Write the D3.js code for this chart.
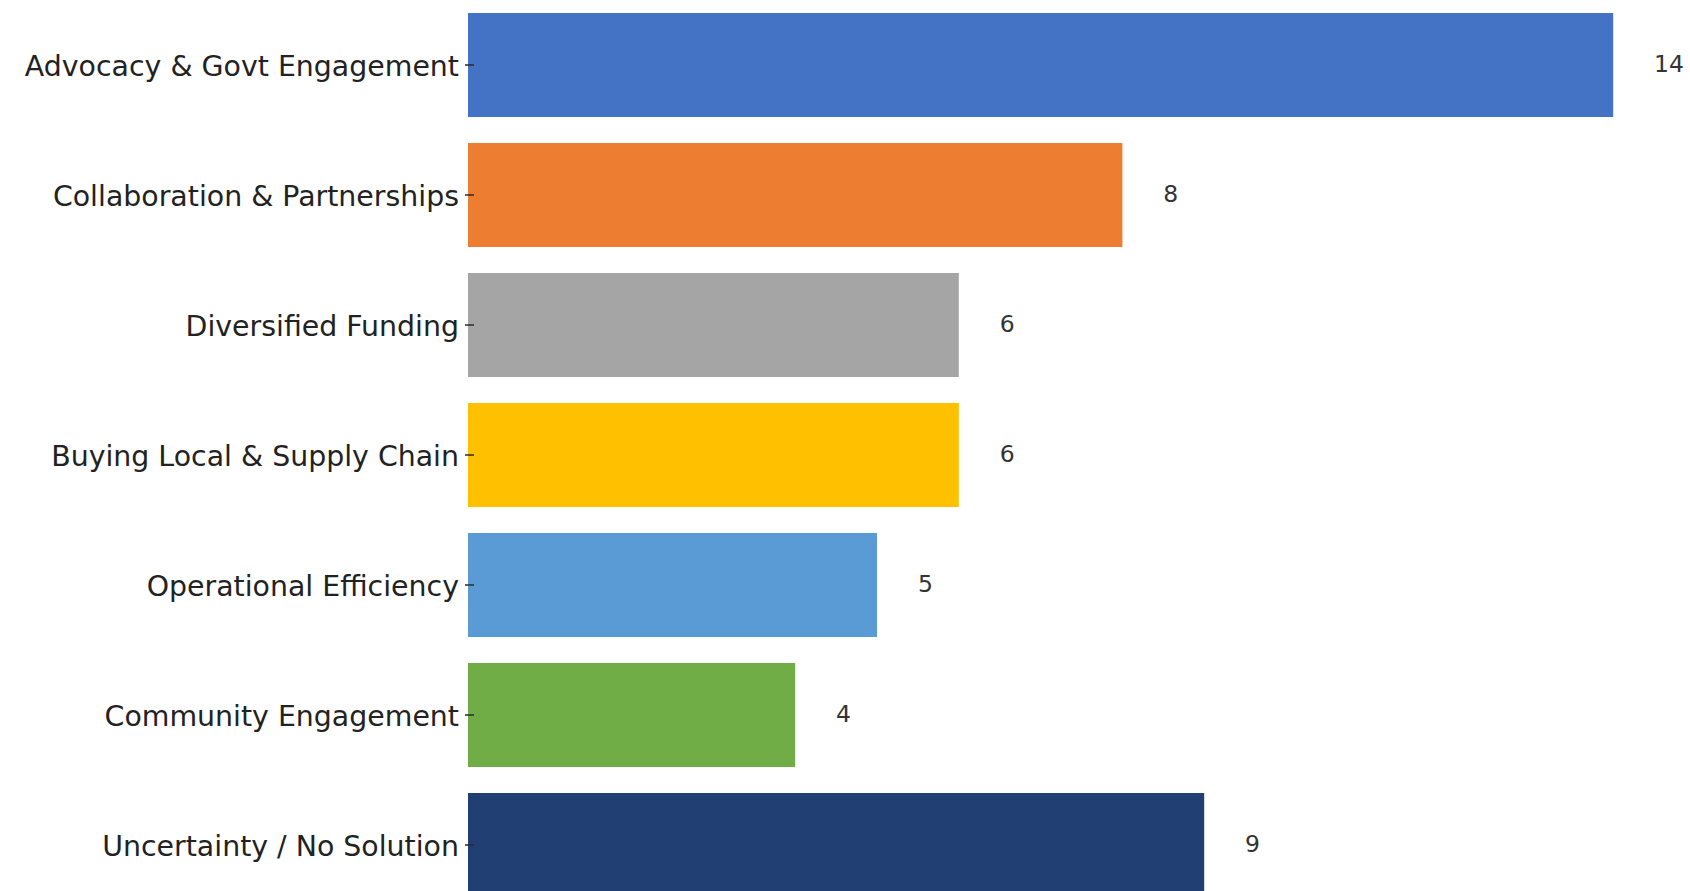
<!DOCTYPE html>
<html>
<head>
<meta charset="utf-8">
<script src="https://cdn.jsdelivr.net/npm/d3@7"></script>
<style>
  html, body { margin: 0; padding: 0; background: #fff; }
  svg { display: block; }
</style>
</head>
<body>
<div id="container"></div>
<script>
const WIDTH = 1690;
const HEIGHT = 891;
const MARGIN = { TOP: 0, LEFT: 468 };
const UNIT = 81.8;
const FONT = '"DejaVu Sans", sans-serif';

// data
const categories = [
  'Advocacy & Govt Engagement',
  'Collaboration & Partnerships',
  'Diversified Funding',
  'Buying Local & Supply Chain',
  'Operational Efficiency',
  'Community Engagement',
  'Uncertainty / No Solution'
];
const counts = [14, 8, 6, 6, 5, 4, 9];
const colors = ['#4472C4', '#ED7D31', '#A5A5A5', '#FFC000', '#5B9BD5', '#70AD47', '#213F73'];

const data = categories.map((c, i) => ({ name: c, value: counts[i], color: colors[i] }));

const svg = d3.select('#container')
              .append('svg')
                .attr('width', WIDTH)
                .attr('height', HEIGHT)
                .style('font-family', FONT);

svg.append('rect')
     .attr('width', WIDTH)
     .attr('height', HEIGHT)
     .attr('fill', '#fff');

const xscale = d3.scaleLinear()
                 .domain([0, 14])
                 .range([MARGIN.LEFT, MARGIN.LEFT + 14 * UNIT]);

const yscale = d3.scaleBand()
                 .domain(categories)
                 .range([MARGIN.TOP, MARGIN.TOP + 910])
                 .paddingInner(0.2)
                 .paddingOuter(0.1);

// bars
svg.selectAll('rect.bar')
   .data(data)
   .enter()
   .append('rect')
     .attr('class', 'bar')
     .attr('x', xscale(0))
     .attr('y', d => yscale(d.name))
     .attr('width', d => xscale(d.value) - xscale(0))
     .attr('height', yscale.bandwidth())
     .attr('fill', d => d.color);

// y axis, ticks drawn over the bar start
const axisLeft = d3.axisLeft(yscale).tickSize(-9).tickPadding(6);

const yAxis = svg.append('g')
                 .attr('transform', `translate(${xscale(0) - 3}, 0)`)
                 .call(axisLeft)
                 .attr('font-family', FONT)
                 .attr('font-size', 28.4);

yAxis.select('.domain').remove();
yAxis.selectAll('.tick line')
     .attr('stroke', '#2a2a2a')
     .attr('stroke-width', 1.5);
yAxis.selectAll('.tick text')
     .attr('fill', '#222')
     .attr('dy', 11.2);

// value labels
svg.selectAll('text.value')
   .data(data)
   .enter()
   .append('text')
     .attr('class', 'value')
     .attr('x', d => xscale(d.value + 0.5))
     .attr('y', d => yscale(d.name) + yscale.bandwidth() / 2 + 6.5)
     .attr('fill', '#333')
     .attr('font-size', 23.5)
     .text(d => d.value);
</script>
</body>
</html>
